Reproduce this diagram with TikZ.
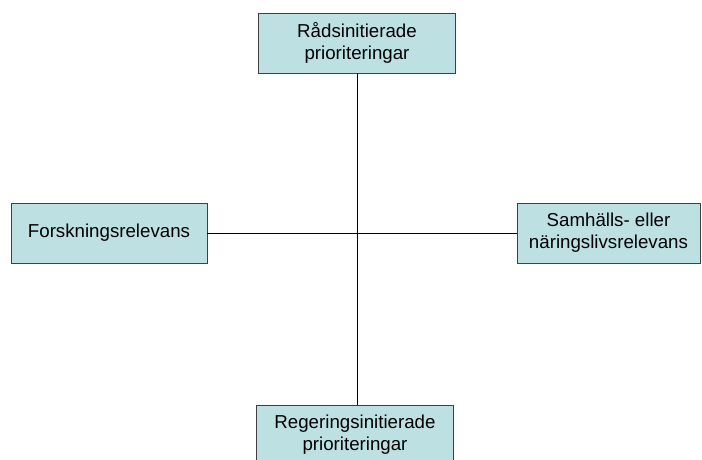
\documentclass[tikz,border=0pt]{standalone}
\usepackage{fontspec}
\setmainfont{Liberation Sans}
\usepackage{tikz}
\usetikzlibrary{positioning}
\definecolor{boxfill}{RGB}{189,224,227}
\definecolor{boxline}{RGB}{64,64,64}
\tikzstyle{prio} = [rectangle, minimum width=197pt, minimum height=60pt, text centered, align=center, draw=boxline, fill=boxfill, line width=0.9pt, font=\fontsize{18.7}{22}\selectfont]
\tikzstyle{axis} = [line width=0.9pt, black]

\begin{document}
\begin{tikzpicture}[x=1pt,y=1pt]
\useasboundingbox (0,0) rectangle (702,459);

\node (rads) [prio] at (357,416) {Rådsinitierade\\prioriteringar};
\node (forsk) [prio, minimum width=196pt] at (109,226) {Forskningsrelevans};
\node (samh) [prio, minimum width=183pt] at (608.5,226) {Samhälls- eller\\näringslivsrelevans};
\node (reg) [prio] at (355,24) {Regeringsinitierade\\prioriteringar};

\draw[axis] (rads.south) -- (rads.south |- reg.north);
\draw[axis] (forsk.east) -- (samh.west);

\end{tikzpicture}
\end{document}
